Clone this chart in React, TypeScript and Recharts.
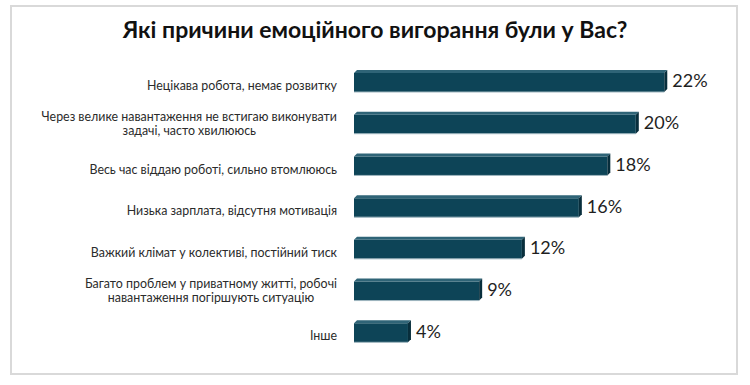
import React from "react";
import { BarChart, Bar, XAxis, YAxis, LabelList } from "recharts";

const categories: string[][] = [
  ["Нецікава робота, немає розвитку"],
  ["Через велике навантаження не встигаю виконувати", "задачі, часто хвилююсь"],
  ["Весь час віддаю роботі, сильно втомлююсь"],
  ["Низька зарплата, відсутня мотивація"],
  ["Важкий клімат у колективі, постійний тиск"],
  ["Багато проблем у приватному житті, робочі", "навантаження погіршують ситуацію"],
  ["Інше"],
];
const values: number[] = [22, 20, 18, 16, 12, 9, 4];
const title = "Які причини емоційного вигорання були у Вас?";

const data = categories.map((c, i) => ({ name: c.join("\n"), value: values[i] }));

const LABEL_SIZE = 12.4;
const LABEL_FONT = `${LABEL_SIZE}px Lato`;
let ctx: CanvasRenderingContext2D | null = null;
function measure(t: string): number {
  if (!ctx) {
    const c = document.createElement("canvas");
    ctx = c.getContext("2d");
  }
  if (!ctx) return t.length * 6;
  ctx.font = LABEL_FONT;
  return ctx.measureText(t).width;
}

const Tick = (props: any) => {
  const { x, y, payload } = props;
  const lines: string[] = String(payload.value).split("\n");
  const maxW = Math.max(...lines.map(measure));
  const right = x - 9;
  const cx = right - maxW / 2;
  const lh = 14;
  const shift = lines.length > 1 ? 1.5 : 5;
  const start = y + shift - ((lines.length - 1) * lh) / 2;
  return (
    <g>
      {lines.map((l, i) => (
        <text
          key={i}
          x={cx}
          y={start + i * lh}
          dy={4.3}
          textAnchor="middle"
          fontFamily="Lato"
          fontSize={LABEL_SIZE}
          fill="#2b2b2b"
        >
          {l}
        </text>
      ))}
    </g>
  );
};

const Bar3D = (props: any) => {
  const { x, y, width, height } = props;
  if (!width || width <= 0) return null;
  const d = 3;
  const front = `M${x},${y + d} L${x + width - d},${y + d} L${x + width - d},${y + height} L${x},${y + height} Z`;
  const top = `M${x + d},${y} L${x + width},${y} L${x + width - d},${y + d} L${x},${y + d} Z`;
  const side = `M${x + width - d},${y + d} L${x + width},${y} L${x + width},${y + height - d} L${x + width - d},${y + height} Z`;
  return (
    <g>
      <path d={front} fill="#0d4457" />
      <path d={top} fill="#2f6477" />
      <path d={side} fill="#082e3c" />
      <line x1={x} y1={y + height} x2={x + width - d} y2={y + height} stroke="#9fb6bf" strokeWidth={1} />
    </g>
  );
};

export default function App() {
  return (
    <div style={{ position: "absolute", left: 0, top: 0, width: 750, height: 385, background: "#fff" }}>
      <div
        style={{
          position: "absolute",
          left: 10,
          top: 5,
          width: 724,
          height: 366,
          border: "2px solid #d9d9d9",
          boxSizing: "content-box",
        }}
      />
      <div
        style={{
          position: "absolute",
          left: 0,
          top: 15,
          width: 750,
          textAlign: "center",
          fontFamily: "Lato",
          fontWeight: 700,
          fontSize: 23,
          color: "#111",
        }}
      >
        {title}
      </div>
      <div style={{ position: "absolute", left: 0, top: 0 }}>
        <BarChart
          width={750}
          height={385}
          data={data}
          layout="vertical"
          margin={{ top: 60, right: 40, bottom: 33, left: 0 }}
          barCategoryGap="24%"
        >
          <XAxis type="number" domain={[0, 25]} hide />
          <YAxis
            type="category"
            dataKey="name"
            width={354}
            axisLine={false}
            tickLine={false}
            tick={<Tick />}
            interval={0}
          />
          <Bar dataKey="value" barSize={22} shape={<Bar3D />} isAnimationActive={false}>
            <LabelList
              dataKey="value"
              position="right"
              offset={5}
              formatter={(v: any) => `${v}%`}
              fill="#1f1f1f"
              fontSize={18}
              fontFamily="Lato"
            />
          </Bar>
        </BarChart>
      </div>
    </div>
  );
}
